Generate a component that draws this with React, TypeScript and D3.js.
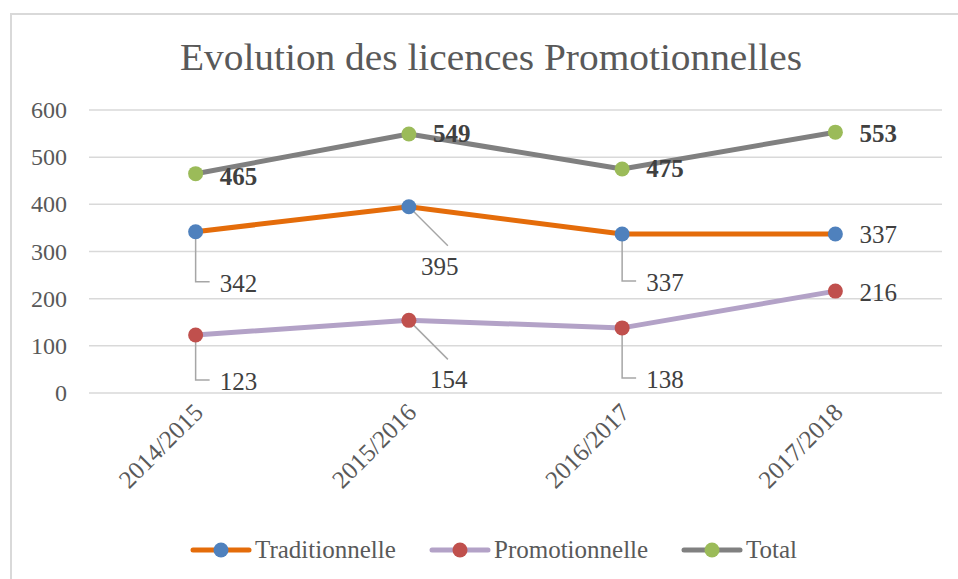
import React from "react";
import * as d3 from "d3";

const categories = ["2014/2015", "2015/2016", "2016/2017", "2017/2018"];
const traditionnelle = [342, 395, 337, 337];
const promotionnelle = [123, 154, 138, 216];
const total = [465, 549, 475, 553];
const yTicks = [0, 100, 200, 300, 400, 500, 600];
const title = "Evolution des licences Promotionnelles";

type LabelStyle = { dx: number; dy: number; leader?: "elbow" | "diag" };

const series = [
  {
    name: "Traditionnelle",
    values: traditionnelle,
    line: "#E46C0A",
    marker: "#4F81BD",
    bold: false,
    labels: [
      { dx: 24, dy: 60, leader: "elbow" },
      { dx: 12, dy: 68, leader: "diag" },
      { dx: 24, dy: 57, leader: "elbow" },
      { dx: 24, dy: 9 },
    ] as LabelStyle[],
  },
  {
    name: "Promotionnelle",
    values: promotionnelle,
    line: "#B3A2C7",
    marker: "#C0504D",
    bold: false,
    labels: [
      { dx: 24, dy: 55, leader: "elbow" },
      { dx: 21, dy: 68, leader: "diag" },
      { dx: 24, dy: 60, leader: "elbow" },
      { dx: 24, dy: 10 },
    ] as LabelStyle[],
  },
  {
    name: "Total",
    values: total,
    line: "#808080",
    marker: "#9BBB59",
    bold: true,
    labels: [
      { dx: 24, dy: 11 },
      { dx: 24, dy: 8 },
      { dx: 24, dy: 8 },
      { dx: 24, dy: 10 },
    ] as LabelStyle[],
  },
];

const FONT = "'Liberation Serif', 'DejaVu Serif', serif";

export default function App() {
  const W = 958;
  const H = 579;
  const x = d3.scalePoint<string>().domain(categories).range([89, 942]).padding(0.5);
  const y = d3.scaleLinear().domain([0, 600]).range([393, 110]);
  const line = d3
    .line<number>()
    .x((_, i) => x(categories[i]) as number)
    .y((d) => y(d));

  const legendItems = [
    { s: series[0], x0: 193 },
    { s: series[1], x0: 432 },
    { s: series[2], x0: 684 },
  ];

  return (
    <svg
      width={W}
      height={H}
      style={{ position: "absolute", left: 0, top: 0, background: "#fff" }}
    >
      <rect x={0} y={0} width={W} height={H} fill="#fff" />
      <rect x={11} y={14} width={W + 20} height={H + 20} fill="#fff" stroke="#d9d9d9" strokeWidth={2} />
      <text
        x={491}
        y={70}
        textAnchor="middle"
        fontFamily={FONT}
        fontSize={38}
        fill="#595959"
        textLength={622}
        lengthAdjust="spacingAndGlyphs"
      >
        {title}
      </text>
      {yTicks.map((t) => (
        <g key={t}>
          <line x1={89} x2={942} y1={y(t)} y2={y(t)} stroke="#d9d9d9" strokeWidth={1.5} />
          <text
            x={67}
            y={y(t) + 8}
            textAnchor="end"
            fontFamily={FONT}
            fontSize={24}
            fill="#595959"
          >
            {t}
          </text>
        </g>
      ))}
      {categories.map((c) => (
        <text
          key={c}
          transform={`translate(${(x(c) as number) + 9},${414}) rotate(-45)`}
          textAnchor="end"
          fontFamily={FONT}
          fontSize={25}
          fill="#595959"
        >
          {c}
        </text>
      ))}
      {series.map((s) => (
        <g key={s.name}>
          <path d={line(s.values) ?? ""} fill="none" stroke={s.line} strokeWidth={5} strokeLinejoin="round" />
          {s.values.map((v, i) => {
            const px = x(categories[i]) as number;
            const py = y(v);
            const lb = s.labels[i];
            const lx = px + lb.dx;
            const ly = py + lb.dy;
            let leader = null;
            if (lb.leader === "elbow") {
              leader = (
                <polyline
                  points={`${px},${py} ${px},${ly - 10} ${lx - 10},${ly - 10}`}
                  fill="none"
                  stroke="#a6a6a6"
                  strokeWidth={1.5}
                />
              );
            } else if (lb.leader === "diag") {
              leader = (
                <line x1={px} y1={py} x2={px + 39} y2={py + 39} stroke="#a6a6a6" strokeWidth={1.5} />
              );
            }
            return (
              <g key={i}>
                {leader}
                <circle cx={px} cy={py} r={7.5} fill={s.marker} />
                <text
                  x={lx}
                  y={ly}
                  fontFamily={FONT}
                  fontSize={25}
                  fontWeight={s.bold ? "bold" : "normal"}
                  fill="#404040"
                >
                  {v}
                </text>
              </g>
            );
          })}
        </g>
      ))}
      {legendItems.map(({ s, x0 }) => (
        <g key={s.name}>
          <line x1={x0} x2={x0 + 56} y1={550} y2={550} stroke={s.line} strokeWidth={5} strokeLinecap="round" />
          <circle cx={x0 + 28} cy={550} r={7.5} fill={s.marker} />
          <text x={x0 + 62} y={558} fontFamily={FONT} fontSize={25} fill="#595959">
            {s.name}
          </text>
        </g>
      ))}
    </svg>
  );
}
